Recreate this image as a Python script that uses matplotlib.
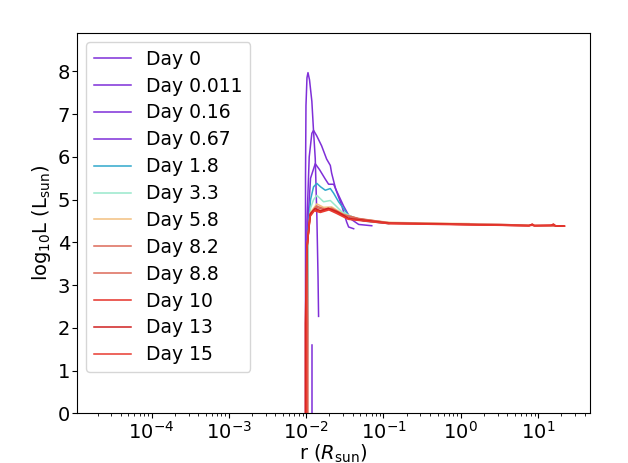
import numpy as np
import matplotlib
matplotlib.use('Agg')
import matplotlib.pyplot as plt

# luminosity profiles, log10 r (R_sun) vs log10 L (L_sun)
days = ['0', '0.011', '0.16', '0.67', '1.8', '3.3', '5.8', '8.2', '8.8', '10', '13', '15']
colors = ['#7f2fd8', '#7f2fd8', '#7f2fd8', '#7f2fd8', '#30a8cc', '#98e8cc',
          '#f2c080', '#dc6a58', '#dc6a58', '#e63228', '#d02020', '#e83a30']

logr = [
    [-2.009, -2.009, -2.003, -1.990, -1.977, -1.957, -1.927, -1.905, -1.883, -1.862, -1.847, -1.840],
    [-1.996, -1.990, -1.961, -1.927, -1.905, -1.866, -1.801, -1.736, -1.688, -1.671, -1.619, -1.542, -1.477, -1.451, -1.386],
    [-1.990, -1.983, -1.944, -1.883, -1.827, -1.753, -1.710, -1.645, -1.606, -1.516, -1.425, -1.321, -1.152],
    [-1.925, -1.925],
    [-1.990, -1.977, -1.944, -1.905, -1.862, -1.814, -1.753, -1.688, -1.645, -1.581, -1.451, -1.256, -0.931],
    [-1.990, -1.977, -1.944, -1.905, -1.862, -1.775, -1.688, -1.619, -1.542, -1.386, -1.126, -0.801],
    [-1.996, -1.983, -1.944, -1.862, -1.775, -1.671, -1.516, -1.321, -0.931, -0.412, 0.108],
    [-1.986, -1.986, -1.990, -1.944, -1.866, -1.762, -1.671, -1.516, -1.321, -0.931, -0.282, 0.497, 1.342],
    [-1.978, -1.978, -1.988, -1.948, -1.870, -1.766, -1.675, -1.520, -1.325, -0.935, -0.290, 0.490, 1.330],
    [-2.012, -2.012, -1.992, -1.948, -1.892, -1.814, -1.710, -1.606, -1.451, -0.931, -0.282, 0.887, 0.926, 0.952, 1.173, 1.199, 1.225, 1.342],
    [-2.003, -2.003, -1.991, -1.950, -1.888, -1.810, -1.715, -1.600, -1.445, -0.925, -0.290, 0.880, 0.920, 0.945, 1.170, 1.195, 1.220, 1.335],
    [-1.995, -1.995, -1.993, -1.952, -1.895, -1.818, -1.705, -1.610, -1.455, -0.935, -0.275, 0.890, 0.930, 0.955, 1.175, 1.202, 1.228, 1.340],
]
logL = [
    [0.0, 5.5, 7.2, 7.85, 7.97, 7.8, 7.3, 6.6, 5.96, 4.6, 3.2, 2.27],
    [0.0, 4.5, 6.0, 6.55, 6.62, 6.5, 6.26, 5.95, 5.8, 5.62, 5.25, 4.87, 4.48, 4.36, 4.32],
    [0.0, 4.3, 5.5, 5.84, 5.7, 5.48, 5.36, 5.36, 5.2, 4.85, 4.55, 4.42, 4.39],
    [0.0, 1.6],
    [0.0, 4.2, 5.0, 5.3, 5.38, 5.3, 5.22, 5.26, 5.15, 4.95, 4.63, 4.5, 4.44],
    [0.0, 4.1, 4.8, 5.0, 5.1, 4.95, 4.98, 4.86, 4.72, 4.58, 4.48, 4.45],
    [0.0, 4.0, 4.7, 4.9, 4.82, 4.83, 4.66, 4.55, 4.47, 4.45, 4.44],
    [0.0, 2.1, 3.9, 4.68, 4.85, 4.78, 4.8, 4.65, 4.56, 4.46, 4.44, 4.42, 4.38],
    [0.0, 2.1, 3.9, 4.66, 4.82, 4.76, 4.79, 4.64, 4.55, 4.46, 4.44, 4.42, 4.38],
    [0.0, 2.1, 3.84, 4.63, 4.76, 4.72, 4.78, 4.70, 4.55, 4.44, 4.43, 4.39, 4.43, 4.39, 4.40, 4.43, 4.39, 4.38],
    [0.0, 2.1, 3.86, 4.66, 4.79, 4.74, 4.80, 4.72, 4.56, 4.45, 4.43, 4.39, 4.42, 4.39, 4.40, 4.42, 4.39, 4.38],
    [0.0, 2.1, 3.8, 4.6, 4.74, 4.70, 4.76, 4.68, 4.54, 4.44, 4.42, 4.39, 4.41, 4.39, 4.40, 4.41, 4.39, 4.38],
]

plt.rcParams['font.size'] = 14
fig = plt.figure(figsize=(6.28, 4.63), dpi=100)
ax = fig.add_axes([0.1225, 0.107, 0.817, 0.822])

for i in range(len(days)):
    ax.plot(10 ** np.array(logr[i]), logL[i], color=colors[i], lw=1.1,
            label='Day ' + days[i])

ax.set_xscale('log')
ax.set_xlim(1.08e-5, 47)
ax.set_ylim(0, 8.9)
ax.tick_params(axis='both', which='both', pad=1.5)
ax.set_xlabel(r'r ($R_{\rm sun}$)', labelpad=0)
ax.set_ylabel(r'log$_{10}$L (L$_{\rm sun}$)', labelpad=3)
ax.legend(loc='upper left', fontsize=13.5, labelspacing=0.42)
plt.savefig('out.png')
